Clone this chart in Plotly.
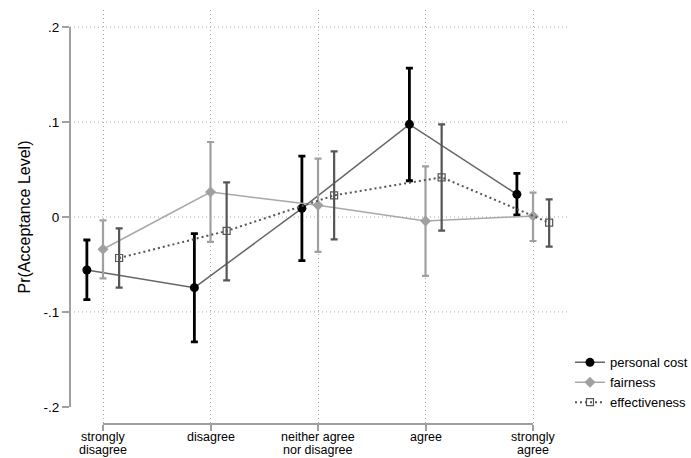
import plotly.graph_objects as go

categories = ["strongly<br>disagree", "disagree", "neither agree<br>nor disagree", "agree", "strongly<br>agree"]
cat_pos = [1, 2, 3, 4, 5]

personal_cost = [-0.0558, -0.0744, 0.0091, 0.0976, 0.0239]
personal_cost_hi = [-0.0242, -0.0175, 0.0642, 0.1568, 0.0460]
personal_cost_lo = [-0.0870, -0.1316, -0.0460, 0.0382, 0.0021]

fairness = [-0.0340, 0.0263, 0.0123, -0.0042, 0.0011]
fairness_hi = [-0.0035, 0.0790, 0.0614, 0.0533, 0.0256]
fairness_lo = [-0.0646, -0.0263, -0.0368, -0.0621, -0.0253]

effectiveness = [-0.0432, -0.0147, 0.0228, 0.0418, -0.0060]
effectiveness_hi = [-0.0119, 0.0365, 0.0691, 0.0976, 0.0186]
effectiveness_lo = [-0.0744, -0.0667, -0.0235, -0.0144, -0.0313]

y_ticks = [-0.2, -0.1, 0.0, 0.1, 0.2]
y_ticktext = ["-.2", "-.1", "0", ".1", ".2"]

FONT = "Liberation Sans, Arial, sans-serif"
GRID = "#a8a8a8"
AXIS = "#a0a0a0"
DOT = "1px,3px"


def err(vals, hi, lo):
    return dict(type="data", symmetric=False,
                array=[h - v for h, v in zip(hi, vals)],
                arrayminus=[v - l for v, l in zip(vals, lo)])


series = [
    ("personal cost", personal_cost, personal_cost_hi, personal_cost_lo, -0.15,
     dict(color="#666666", width=1.5, dash="solid"),
     dict(symbol="circle", size=9, color="black"),
     dict(color="black", thickness=2.8, width=3.5)),
    ("fairness", fairness, fairness_hi, fairness_lo, 0.0,
     dict(color="#a8a8a8", width=1.5, dash="solid"),
     dict(symbol="diamond", size=8.5, color="#a0a0a0"),
     dict(color="#a0a0a0", thickness=2.2, width=3.5)),
    ("effectiveness", effectiveness, effectiveness_hi, effectiveness_lo, 0.15,
     dict(color="#555555", width=2, dash="2px,3px"),
     dict(symbol="square-open", size=7, color="#555555", line=dict(width=1.2, color="#555555")),
     dict(color="#555555", thickness=2.2, width=3.5)),
]

fig = go.Figure()
for name, vals, hi, lo, off, line, marker, eb in series:
    e = err(vals, hi, lo)
    e.update(eb)
    fig.add_trace(go.Scatter(
        x=[p + off for p in cat_pos], y=vals, name=name,
        mode="lines+markers", line=line, marker=marker, error_y=e,
    ))

# horizontal dotted grid lines (none at the bottom tick, as in the original)
for yv in y_ticks[1:]:
    fig.add_shape(type="line", xref="paper", x0=0, x1=1, yref="y", y0=yv, y1=yv,
                  line=dict(color=GRID, width=1, dash=DOT), layer="below")
# axis lines spanning only the tick range
fig.add_shape(type="line", xref="paper", x0=0, x1=0, yref="y", y0=y_ticks[0], y1=y_ticks[-1],
              line=dict(color=AXIS, width=2))
fig.add_shape(type="line", xref="x", x0=cat_pos[0], x1=cat_pos[-1], yref="paper", y0=0, y1=0,
              line=dict(color=AXIS, width=2))

# category labels, tightly spaced lines (as in the original)
for pos, lab in zip(cat_pos, categories):
    for k, part in enumerate(lab.split("<br>")):
        fig.add_annotation(x=pos, xref="x", y=0, yref="paper", yanchor="top",
                           text=part, showarrow=False, yshift=-5 - 13 * k,
                           font=dict(size=12.5, family=FONT, color="black"),
                           borderpad=0)

fig.update_layout(
    width=691, height=458,
    margin=dict(l=70, r=124, t=10, b=34, autoexpand=False),
    paper_bgcolor="white", plot_bgcolor="white",
    font=dict(family=FONT, color="black", size=12),
    showlegend=True,
    legend=dict(x=1.006, y=0.185, xanchor="left", yanchor="top",
                font=dict(size=13, family=FONT, color="black"),
                bgcolor="rgba(0,0,0,0)", itemwidth=30, tracegroupgap=0),
    xaxis=dict(range=[0.693, 5.316], tickvals=cat_pos, ticktext=categories,
               showticklabels=False,
               showgrid=True, gridcolor=GRID, griddash=DOT, gridwidth=1,
               zeroline=False, showline=False, automargin=False,
               ticks="outside", ticklen=6, tickcolor=AXIS, tickwidth=2),
    yaxis=dict(range=[-0.218, 0.218], tickvals=y_ticks, ticktext=y_ticktext,
               showgrid=False, zeroline=False, showline=False, automargin=False,
               ticks="outside", ticklen=7, tickcolor=AXIS, tickwidth=2,
               tickfont=dict(size=13.5, family=FONT, color="black"),
               title=dict(text="Pr(Acceptance Level)", font=dict(size=16, family=FONT, color="black"),
                          standoff=8)),
)

fig.write_html("out.html")
